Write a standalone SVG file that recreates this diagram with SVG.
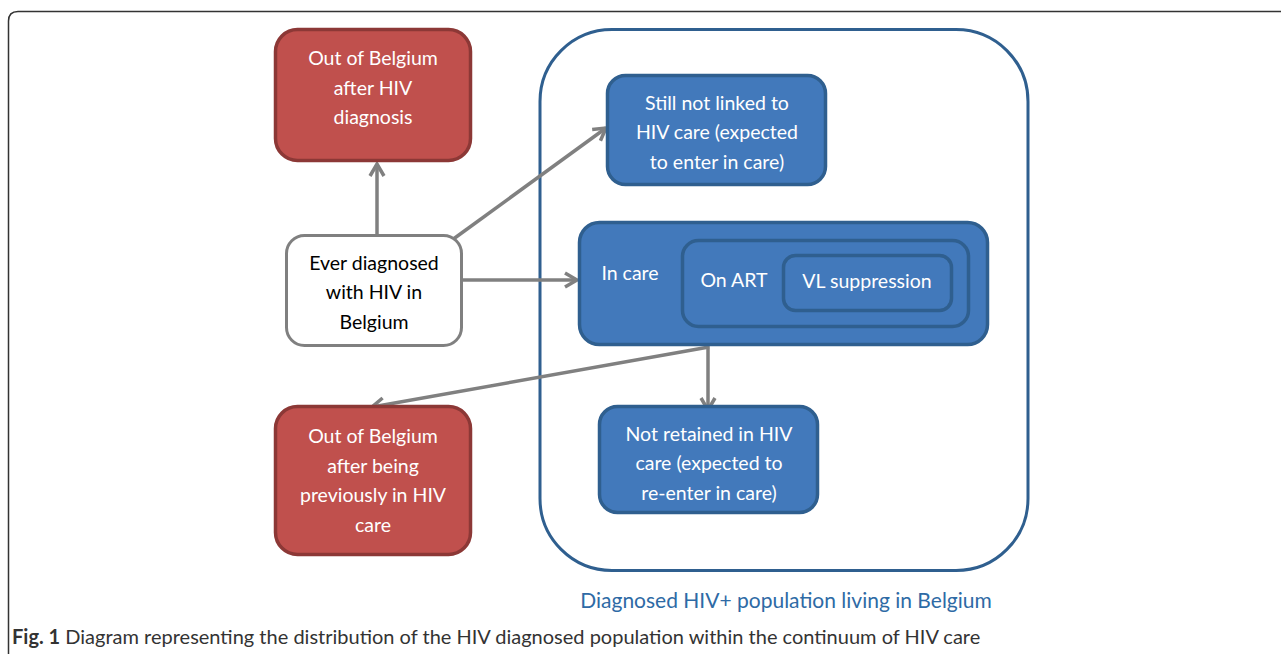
<svg xmlns="http://www.w3.org/2000/svg" width="1281" height="654" viewBox="0 0 1281 654">
<defs>
<style>
.t{font-family:Lato,"Open Sans","Liberation Sans",sans-serif;font-size:19.5px;text-anchor:middle}
.w{fill:#ffffff}
.k{fill:#000000}
.red{fill:#c0504d;stroke:#8c3836;stroke-width:3.5}
.blue{fill:#4279bb;stroke:#2f5f8f;stroke-width:3.5}
.con{stroke:#808080;stroke-width:3.5;fill:none}
</style>
<marker id="arr" markerUnits="userSpaceOnUse" markerWidth="18" markerHeight="18" viewBox="0 0 18 18" refX="15" refY="9" orient="auto">
<path d="M3,2 L15,9 L3,16" fill="none" stroke="#808080" stroke-width="3.5"/>
</marker>
</defs>
<rect width="1281" height="654" fill="#ffffff"/>
<path d="M8.5,660 L8.5,21 Q8.5,11.5 18,11.5 L1290,11.5" fill="none" stroke="#333333" stroke-width="1.5"/>

<g id="population">
<rect x="540" y="29.5" width="488" height="541" rx="72" fill="none" stroke="#2f5f8f" stroke-width="3"/>
<text x="786" y="608" style="font-family:Lato,'Open Sans','Liberation Sans',sans-serif;font-size:21px;fill:#2e6aa5;text-anchor:middle">Diagnosed HIV+ population living in Belgium</text>
</g>

<g id="connectors">
<line class="con" x1="377" y1="235" x2="377" y2="164" marker-end="url(#arr)"/>
<line class="con" x1="452" y1="240" x2="606" y2="128" marker-end="url(#arr)"/>
<line class="con" x1="462" y1="280" x2="577" y2="280" marker-end="url(#arr)"/>
<line class="con" x1="708" y1="345" x2="708" y2="410" marker-end="url(#arr)"/>
<line class="con" x1="709" y1="347" x2="372" y2="407" marker-end="url(#arr)"/>
</g>

<g id="out1">
<rect class="red" x="275.5" y="29.5" width="195" height="131" rx="22"/>
<text class="t w" x="373" y="65">Out of Belgium</text>
<text class="t w" x="373" y="95">after HIV</text>
<text class="t w" x="373" y="124">diagnosis</text>
</g>

<g id="ever">
<rect x="286.5" y="235.5" width="175" height="110" rx="18" fill="#ffffff" stroke="#808080" stroke-width="3"/>
<text class="t k" x="374" y="270">Ever diagnosed</text>
<text class="t k" x="374" y="299">with HIV in</text>
<text class="t k" x="374" y="329">Belgium</text>
</g>

<g id="out2">
<rect class="red" x="275.5" y="406.5" width="195" height="148" rx="22"/>
<text class="t w" x="373" y="443">Out of Belgium</text>
<text class="t w" x="373" y="473">after being</text>
<text class="t w" x="373" y="502">previously in HIV</text>
<text class="t w" x="373" y="532">care</text>
</g>

<g id="notlinked">
<rect class="blue" x="607.5" y="75.5" width="218" height="109" rx="18"/>
<text class="t w" x="717" y="110">Still not linked to</text>
<text class="t w" x="717" y="139">HIV care (expected</text>
<text class="t w" x="717" y="169">to enter in care)</text>
</g>

<g id="incare">
<rect class="blue" x="579.5" y="222.5" width="408" height="122" rx="20"/>
<text class="t w" x="630" y="280">In care</text>
</g>

<g id="onart">
<rect class="blue" x="682.5" y="240.5" width="286" height="86" rx="16"/>
<text class="t w" x="734" y="287">On ART</text>
</g>

<g id="vl">
<rect class="blue" x="783.5" y="255.5" width="168" height="55" rx="12"/>
<text class="t w" x="867" y="288">VL suppression</text>
</g>

<g id="notretained">
<rect class="blue" x="599.5" y="406.5" width="218" height="106" rx="18"/>
<text class="t w" x="709" y="441">Not retained in HIV</text>
<text class="t w" x="709" y="470">care (expected to</text>
<text class="t w" x="709" y="500">re-enter in care)</text>
</g>

<text x="12" y="644" style="font-family:Lato,'Open Sans','Liberation Sans',sans-serif;font-size:20px;fill:#333333"><tspan font-weight="bold">Fig. 1</tspan> Diagram representing the distribution of the HIV diagnosed population within the continuum of HIV care</text>
</svg>
